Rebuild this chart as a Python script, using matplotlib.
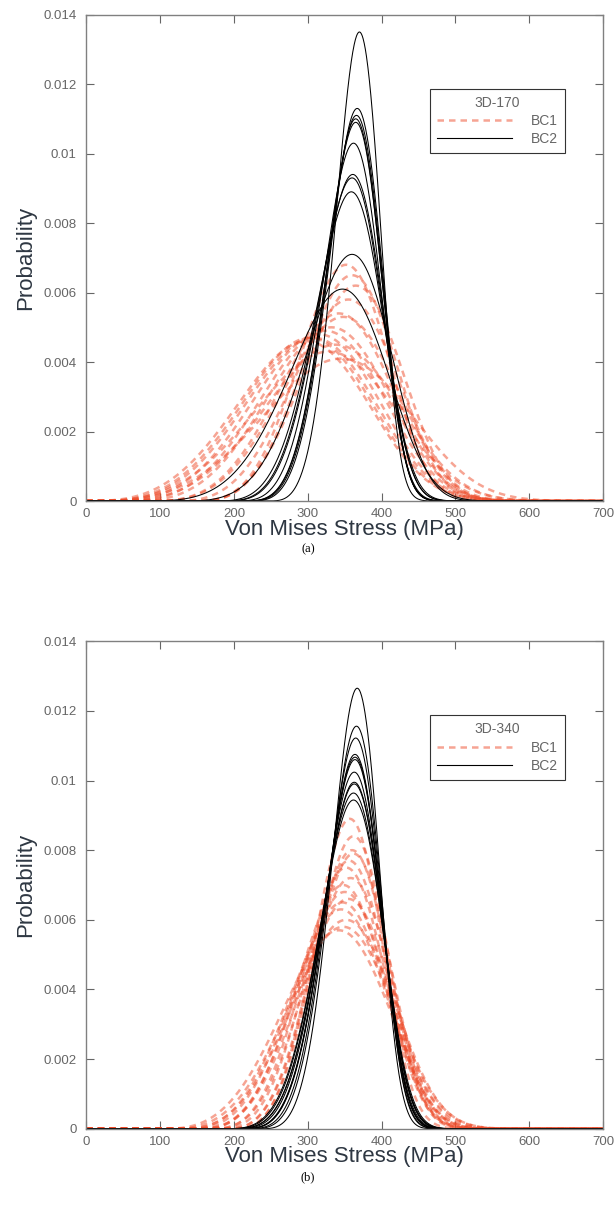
import matplotlib
matplotlib.use('Agg')
import matplotlib.pyplot as plt
import numpy as np
from matplotlib.ticker import FuncFormatter

plt.rcParams['font.family'] = ['Liberation Sans', 'DejaVu Sans']

# peak position (MPa) and peak height of every fitted density curve
bc1_mode_a = [352, 360, 365, 342, 348, 332, 324, 315, 308, 303, 298, 338, 345, 328, 355]
bc1_peak_a = [0.0068, 0.0065, 0.0062, 0.0054, 0.0053, 0.0050, 0.0049, 0.0048,
              0.0047, 0.0047, 0.0046, 0.0045, 0.0041, 0.0043, 0.0058]
bc2_mode_a = [370, 367, 366, 365, 365, 362, 361, 360, 359, 360, 347]
bc2_peak_a = [0.0135, 0.0113, 0.0111, 0.0110, 0.0109, 0.0103, 0.0094, 0.0093,
              0.0089, 0.0071, 0.0061]

bc1_mode_b = [357, 362, 360, 356, 352, 358, 348, 350, 355, 345, 352, 348, 342, 362, 347]
bc1_peak_b = [0.0089, 0.0084, 0.0080, 0.0077, 0.0075, 0.0072, 0.0070, 0.0068,
              0.0066, 0.0063, 0.0060, 0.0058, 0.0057, 0.0079, 0.0065]
bc2_mode_b = [367, 366, 365, 364, 364, 364, 363, 363, 363, 362, 362]
bc2_peak_b = [0.01265, 0.01156, 0.01122, 0.01075, 0.01067, 0.0106, 0.01024,
              0.00995, 0.0099, 0.00964, 0.00944]

# Weibull shape used for each boundary condition
bc1_shape = 3.9
bc2_shape = 4.8

panels = [
    ('3D-170', '(a)', bc1_mode_a, bc1_peak_a, bc2_mode_a, bc2_peak_a),
    ('3D-340', '(b)', bc1_mode_b, bc1_peak_b, bc2_mode_b, bc2_peak_b),
]

x = np.linspace(0, 700, 1401)


def weibull3(mode, peak, k):
    # three-parameter Weibull with given mode and peak height
    r = (k - 1) / k
    lam = k * r ** r * np.exp(-r) / peak
    x0 = mode - lam * r ** (1 / k)
    z = np.clip((x - x0) / lam, 0, None)
    return k / lam * z ** (k - 1) * np.exp(-z ** k)


orange = '#ee4a28'
label_color = '#2e3742'
tick_color = '#666666'

fig = plt.figure(figsize=(6.16, 12.19), dpi=100)
axes_pos = [[0.14, 0.589, 0.839, 0.399], [0.14, 0.074, 0.839, 0.400]]

for pos, (title, cap, m1, p1, m2, p2) in zip(axes_pos, panels):
    ax = fig.add_axes(pos)
    for m, p in zip(m1, p1):
        ax.plot(x, weibull3(m, p, bc1_shape), color=orange, alpha=0.5, lw=1.8,
                dashes=(2.6, 2.0))
    for m, p in zip(m2, p2):
        ax.plot(x, weibull3(m, p, bc2_shape), color='k', lw=0.75)

    ax.plot([], [], color=orange, alpha=0.5, lw=1.8, dashes=(2.6, 2.0), label='BC1')
    ax.plot([], [], color='k', lw=0.8, label='BC2')
    leg = ax.legend(title=title, loc='upper left', bbox_to_anchor=(0.652, 0.862),
                    fontsize=10, title_fontsize=10, handlelength=5.4,
                    handletextpad=1.35, borderpad=0.5, labelspacing=0.3,
                    fancybox=False, edgecolor='#333333', framealpha=1)
    leg.get_frame().set_linewidth(0.8)
    for t in leg.get_texts():
        t.set_color(tick_color)
    leg.get_title().set_color(tick_color)

    ax.set_xlim(0, 700)
    ax.set_ylim(0, 0.014)
    ax.set_xticks(np.arange(0, 701, 100))
    ax.set_yticks(np.arange(0, 0.0141, 0.002))
    ax.yaxis.set_major_formatter(FuncFormatter(lambda v, _: '%g' % round(v, 4)))
    ax.tick_params(direction='in', length=6, width=0.8, colors='#666666',
                   labelcolor=tick_color, labelsize=9.5, top=True, right=True, pad=5)
    ax.tick_params(axis='y', pad=7)
    for s in ax.spines.values():
        s.set_color('#808080')
        s.set_linewidth(1)
    ax.set_xlabel('Von Mises Stress (MPa)', fontsize=16, color=label_color, labelpad=-1)
    ax.set_ylabel('Probability', fontsize=16, color=label_color, labelpad=5)
    ax.text(0.5 + (0.5 - 0.14 - 0.839 / 2) / 0.839, -0.1, cap,
            transform=ax.transAxes, ha='center', va='center', fontsize=9,
            family='Liberation Serif')

fig.savefig('out.png', dpi=100)
